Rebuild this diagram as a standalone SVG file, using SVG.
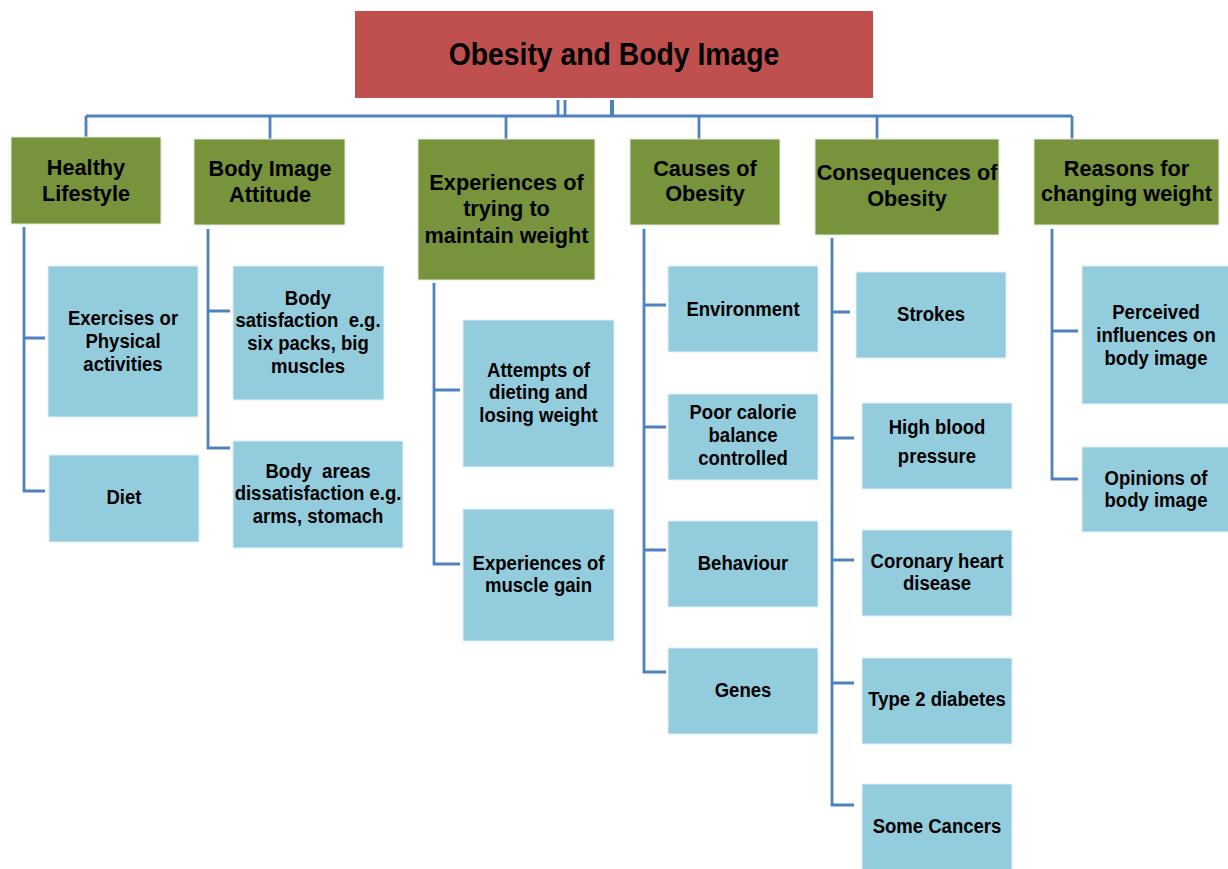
<svg xmlns="http://www.w3.org/2000/svg" width="1228" height="869" viewBox="0 0 1228 869">
  <style>
    .title { fill: #C0504D; }
    .head { fill: #77933C; stroke: #e6ecd9; stroke-width: 1; }
    .leaf { fill: #93CDDD; stroke: #dff0f5; stroke-width: 1; }
    text { font-family: "Liberation Sans", Arial, sans-serif; font-weight: bold; fill: #000; text-anchor: middle; }
    .t0 { font-size: 31.5px; }
    .t1 { font-size: 22.6px; }
    .t2 { font-size: 20.6px; }
    .wire { fill: none; stroke: #4F81BD; stroke-width: 2.8; }
  </style>
  <rect width="1228" height="869" fill="#ffffff"/>

  <!-- connectors -->
  <g id="connectors" class="wire">
    <path d="M558 100 V116 M565 100 V116"/>
    <path d="M612 100 V116" stroke-width="4"/>
    <path d="M86 116 H1072"/>
    <path d="M86 116 V137 M270 116 V139 M506 116 V139 M699 116 V139 M877 116 V139 M1072 116 V139"/>
    <path d="M24 227 V491 H45 M24 338 H45"/>
    <path d="M208 229 V448 H230 M208 311 H230"/>
    <path d="M434 283 V564 H460 M434 390 H460"/>
    <path d="M644 229 V672 H666 M644 305 H666 M644 427 H666 M644 550 H666"/>
    <path d="M832 238 V805 H854 M832 312 H850 M832 438 H854 M832 560 H854 M832 683 H854"/>
    <path d="M1052 229 V479 H1078 M1052 331 H1078"/>
  </g>

  <!-- root -->
  <g id="root">
    <rect class="title" x="355" y="11" width="518" height="87"/>
    <text class="t0" transform="translate(614,64.5) scale(0.9,1)">Obesity and Body Image</text>
  </g>

  <!-- category headers -->
  <g id="healthy-lifestyle">
    <rect class="head" x="11" y="137" width="150" height="87"/>
    <text class="t1" transform="translate(86,175) scale(0.96,1)"><tspan x="0" y="0">Healthy</tspan><tspan x="0" y="26">Lifestyle</tspan></text>
  </g>
  <g id="body-image-attitude">
    <rect class="head" x="194" y="139" width="151" height="86"/>
    <text class="t1" transform="translate(270,176) scale(0.96,1)"><tspan x="0" y="0">Body Image</tspan><tspan x="0" y="26">Attitude</tspan></text>
  </g>
  <g id="maintain-weight">
    <rect class="head" x="418" y="139" width="177" height="141"/>
    <text class="t1" transform="translate(506.5,189.5) scale(0.96,1)"><tspan x="0" y="0">Experiences of</tspan><tspan x="0" y="26.7">trying to</tspan><tspan x="0" y="53.4">maintain weight</tspan></text>
  </g>
  <g id="causes">
    <rect class="head" x="630" y="139" width="150" height="86"/>
    <text class="t1" transform="translate(705,175.5) scale(0.96,1)"><tspan x="0" y="0">Causes of</tspan><tspan x="0" y="26">Obesity</tspan></text>
  </g>
  <g id="consequences">
    <rect class="head" x="815" y="139" width="184" height="96"/>
    <text class="t1" transform="translate(907,180) scale(0.96,1)"><tspan x="0" y="0">Consequences of</tspan><tspan x="0" y="26">Obesity</tspan></text>
  </g>
  <g id="reasons">
    <rect class="head" x="1034" y="139" width="185" height="86"/>
    <text class="t1" transform="translate(1126.5,175.5) scale(0.96,1)"><tspan x="0" y="0">Reasons for</tspan><tspan x="0" y="26">changing weight</tspan></text>
  </g>

  <!-- Healthy Lifestyle items -->
  <g id="exercises">
    <rect class="leaf" x="48" y="266" width="150" height="151"/>
    <text class="t2" transform="translate(123,325) scale(0.9,1)"><tspan x="0" y="0">Exercises or</tspan><tspan x="0" y="23">Physical</tspan><tspan x="0" y="46">activities</tspan></text>
  </g>
  <g id="diet">
    <rect class="leaf" x="49" y="455" width="150" height="87"/>
    <text class="t2" transform="translate(124,504) scale(0.9,1)">Diet</text>
  </g>

  <!-- Body Image Attitude items -->
  <g id="body-satisfaction">
    <rect class="leaf" x="233" y="266" width="151" height="134"/>
    <text class="t2" transform="translate(308,304.5) scale(0.9,1)"><tspan x="0" y="0">Body</tspan><tspan x="0" y="22.8">satisfaction&#160; e.g.</tspan><tspan x="0" y="45.6">six packs, big</tspan><tspan x="0" y="68.4">muscles</tspan></text>
  </g>
  <g id="body-dissatisfaction">
    <rect class="leaf" x="233" y="441" width="170" height="107"/>
    <text class="t2" transform="translate(318,477.5) scale(0.9,1)"><tspan x="0" y="0">Body&#160; areas</tspan><tspan x="0" y="23">dissatisfaction e.g.</tspan><tspan x="0" y="46">arms, stomach</tspan></text>
  </g>

  <!-- Maintain weight items -->
  <g id="dieting">
    <rect class="leaf" x="463" y="320" width="151" height="147"/>
    <text class="t2" transform="translate(538.5,377) scale(0.9,1)"><tspan x="0" y="0">Attempts of</tspan><tspan x="0" y="22.5">dieting and</tspan><tspan x="0" y="45">losing weight</tspan></text>
  </g>
  <g id="muscle-gain">
    <rect class="leaf" x="463" y="509" width="151" height="132"/>
    <text class="t2" transform="translate(538.5,569.5) scale(0.9,1)"><tspan x="0" y="0">Experiences of</tspan><tspan x="0" y="23">muscle gain</tspan></text>
  </g>

  <!-- Causes items -->
  <g id="environment">
    <rect class="leaf" x="668" y="266" width="150" height="86"/>
    <text class="t2" transform="translate(743,315.5) scale(0.9,1)">Environment</text>
  </g>
  <g id="calorie-balance">
    <rect class="leaf" x="668" y="394" width="150" height="86"/>
    <text class="t2" transform="translate(743,419) scale(0.9,1)"><tspan x="0" y="0">Poor calorie</tspan><tspan x="0" y="23">balance</tspan><tspan x="0" y="46">controlled</tspan></text>
  </g>
  <g id="behaviour">
    <rect class="leaf" x="668" y="521" width="150" height="86"/>
    <text class="t2" transform="translate(743,569.5) scale(0.9,1)">Behaviour</text>
  </g>
  <g id="genes">
    <rect class="leaf" x="668" y="648" width="150" height="86"/>
    <text class="t2" transform="translate(743,697) scale(0.9,1)">Genes</text>
  </g>

  <!-- Consequences items -->
  <g id="strokes">
    <rect class="leaf" x="856" y="272" width="150" height="86"/>
    <text class="t2" transform="translate(931,321) scale(0.9,1)">Strokes</text>
  </g>
  <g id="blood-pressure">
    <rect class="leaf" x="862" y="403" width="150" height="86"/>
    <text class="t2" transform="translate(937,434) scale(0.9,1)"><tspan x="0" y="0">High blood</tspan><tspan x="0" y="29">pressure</tspan></text>
  </g>
  <g id="heart-disease">
    <rect class="leaf" x="862" y="530" width="150" height="86"/>
    <text class="t2" transform="translate(937,567.5) scale(0.9,1)"><tspan x="0" y="0">Coronary heart</tspan><tspan x="0" y="22.8">disease</tspan></text>
  </g>
  <g id="diabetes">
    <rect class="leaf" x="862" y="658" width="150" height="86"/>
    <text class="t2" transform="translate(937,706) scale(0.9,1)">Type 2 diabetes</text>
  </g>
  <g id="cancers">
    <rect class="leaf" x="862" y="784" width="150" height="86"/>
    <text class="t2" transform="translate(937,832.5) scale(0.9,1)">Some Cancers</text>
  </g>

  <!-- Reasons items -->
  <g id="perceived-influences">
    <rect class="leaf" x="1082" y="266" width="147" height="138"/>
    <text class="t2" transform="translate(1156,319) scale(0.9,1)"><tspan x="0" y="0">Perceived</tspan><tspan x="0" y="23">influences on</tspan><tspan x="0" y="46">body image</tspan></text>
  </g>
  <g id="opinions">
    <rect class="leaf" x="1082" y="447" width="147" height="85"/>
    <text class="t2" transform="translate(1156,485) scale(0.9,1)"><tspan x="0" y="0">Opinions of</tspan><tspan x="0" y="22.5">body image</tspan></text>
  </g>
</svg>
